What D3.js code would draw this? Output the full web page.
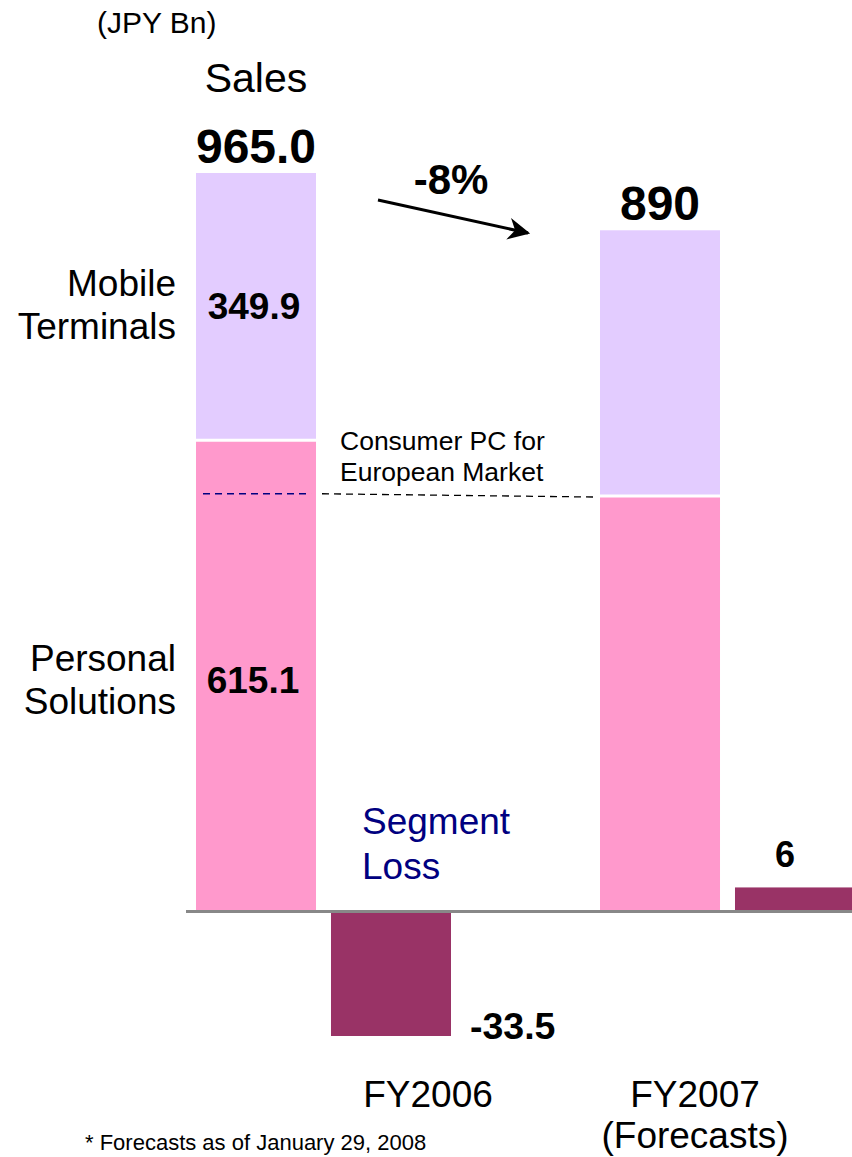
<!DOCTYPE html>
<html>
<head>
<meta charset="utf-8">
<script src="https://cdn.jsdelivr.net/npm/d3@7"></script>
<style>
  body { margin: 0; background: #fff; }
  text { font-family: Arial, "Liberation Sans", sans-serif; }
</style>
</head>
<body>
<div id="chart"></div>
<script>
// Sales by segment and segment profit/loss (JPY Bn)
const years = ["FY2006", "FY2007"];
const yearLabels = [["FY2006"], ["FY2007", "(Forecasts)"]];
const personalSolutions = [615.1, 542];
const mobileTerminals = [349.9, 348];
const totalLabels = ["965.0", "890"];
const segmentProfit = [-33.5, 6];
const profitLabels = ["-33.5", "6"];

const W = 852, H = 1157;
const baseY = 910;

const svg = d3.select("#chart").append("svg")
  .attr("width", W).attr("height", H);

// scales
const x = d3.scaleBand().domain(years).range([196, 196 + 2 * 404]);
const xSub = d3.scaleBand().domain(["sales", "profit"]).range([0, 255]).paddingInner(0.111);
const ySales = d3.scaleLinear().domain([0, 965]).range([baseY, 173]);
const yProfit = d3.scaleLinear().domain([0, -33.5]).range([baseY, 1036]);

const stackData = years.map((yr, i) => ({ year: yr, personal: personalSolutions[i], mobile: mobileTerminals[i] }));
const stacked = d3.stack().keys(["personal", "mobile"])(stackData);
const color = d3.scaleOrdinal().domain(["personal", "mobile"]).range(["#ff99cc", "#e3ccff"]);

svg.append("g")
  .selectAll("g")
  .data(stacked)
  .join("g")
  .attr("fill", d => color(d.key))
  .selectAll("rect")
  .data(d => d)
  .join("rect")
  .attr("x", d => x(d.data.year) + xSub("sales"))
  .attr("width", xSub.bandwidth())
  .attr("y", d => ySales(d[1]))
  .attr("height", d => ySales(d[0]) - ySales(d[1]));

// white gap between segments
svg.selectAll("line.gap")
  .data(stackData)
  .join("line")
  .attr("class", "gap")
  .attr("x1", d => x(d.year) + xSub("sales"))
  .attr("x2", d => x(d.year) + xSub("sales") + xSub.bandwidth())
  .attr("y1", d => ySales(d.personal))
  .attr("y2", d => ySales(d.personal))
  .attr("stroke", "#fff")
  .attr("stroke-width", 3);

// segment profit / loss bars
svg.selectAll("rect.profit")
  .data(segmentProfit)
  .join("rect")
  .attr("class", "profit")
  .attr("fill", "#993366")
  .attr("x", (d, i) => x(years[i]) + xSub("profit"))
  .attr("width", xSub.bandwidth())
  .attr("y", d => Math.min(yProfit(d), baseY))
  .attr("height", d => Math.abs(yProfit(d) - baseY));

// baseline
svg.append("line")
  .attr("x1", 186).attr("x2", W)
  .attr("y1", baseY + 1.5).attr("y2", baseY + 1.5)
  .attr("stroke", "#888").attr("stroke-width", 3);

// Consumer PC for European Market dashed lines
const euroY = ySales(545);
svg.append("line")
  .attr("x1", x("FY2006") + 7).attr("x2", x("FY2006") + xSub.bandwidth() - 5)
  .attr("y1", euroY).attr("y2", euroY)
  .attr("stroke", "#000080").attr("stroke-width", 1.5)
  .attr("stroke-dasharray", "7,5");
svg.append("line")
  .attr("x1", x("FY2006") + xSub.bandwidth() + 6)
  .attr("x2", x("FY2007") - 3)
  .attr("y1", euroY).attr("y2", ySales(personalSolutions[1]) + 1)
  .attr("stroke", "#000").attr("stroke-width", 1.3)
  .attr("stroke-dasharray", "7,5");

function multiline(lines, xPos, yPos, size, gap, anchor, fill, weight) {
  svg.append("text")
    .attr("x", xPos).attr("y", yPos)
    .attr("font-size", size)
    .attr("text-anchor", anchor)
    .attr("fill", fill)
    .attr("font-weight", weight || "normal")
    .selectAll("tspan")
    .data(lines)
    .join("tspan")
    .attr("x", xPos)
    .attr("dy", (d, i) => i ? gap : 0)
    .text(d => d);
}

multiline(["Consumer PC for", "European Market"], 340, 450, 26.5, 31, "start", "#000");

// total labels
svg.selectAll("text.total")
  .data(totalLabels)
  .join("text")
  .attr("class", "total")
  .attr("x", (d, i) => x(years[i]) + xSub("sales") + xSub.bandwidth() / 2)
  .attr("y", (d, i) => ySales(personalSolutions[i] + mobileTerminals[i]) - 10)
  .attr("text-anchor", "middle")
  .attr("font-weight", "bold")
  .attr("font-size", 48)
  .text(d => d);

// segment value labels (FY2006)
svg.append("text")
  .attr("x", 254).attr("y", 319)
  .attr("text-anchor", "middle").attr("font-weight", "bold").attr("font-size", 37)
  .text(mobileTerminals[0].toFixed(1));
svg.append("text")
  .attr("x", 253).attr("y", 693)
  .attr("text-anchor", "middle").attr("font-weight", "bold").attr("font-size", 37)
  .text(personalSolutions[0].toFixed(1));

// segment names
multiline(["Mobile", "Terminals"], 176, 296, 37, 43, "end", "#000");
multiline(["Personal", "Solutions"], 176, 671, 37, 43, "end", "#000");
multiline(["Segment", "Loss"], 362, 834, 37, 45, "start", "#000080");

// profit labels
svg.append("text")
  .attr("x", x("FY2006") + xSub("profit") + xSub.bandwidth() + 19)
  .attr("y", 1039)
  .attr("font-weight", "bold").attr("font-size", 37.5)
  .text(profitLabels[0]);
svg.append("text")
  .attr("x", x("FY2007") + xSub("profit") + xSub.bandwidth() / 2 - 10)
  .attr("y", 867)
  .attr("text-anchor", "middle")
  .attr("font-weight", "bold").attr("font-size", 36)
  .text(profitLabels[1]);

// titles
svg.append("text").attr("x", 97).attr("y", 33).attr("font-size", 30).text("(JPY Bn)");
svg.append("text").attr("x", 256).attr("y", 92).attr("text-anchor", "middle").attr("font-size", 41).text("Sales");

// -8% arrow
svg.append("defs").append("marker")
  .attr("id", "arrow")
  .attr("viewBox", "0 0 10 10")
  .attr("refX", 9).attr("refY", 5)
  .attr("markerWidth", 30).attr("markerHeight", 22)
  .attr("markerUnits", "userSpaceOnUse")
  .attr("orient", "auto")
  .append("path").attr("d", "M0,0 L10,5 L0,10 L3,5 Z").attr("fill", "#000");
svg.append("line")
  .attr("x1", 378).attr("y1", 200).attr("x2", 528).attr("y2", 233)
  .attr("stroke", "#000").attr("stroke-width", 3)
  .attr("marker-end", "url(#arrow)");
svg.append("text").attr("x", 451).attr("y", 194).attr("text-anchor", "middle")
  .attr("font-weight", "bold").attr("font-size", 42).text("-8%");

// year labels
years.forEach((yr, i) => {
  const cx = i ? 695 : 428;
  multiline(yearLabels[i], cx, 1107, 37, 41, "middle", "#000");
});

// footnote
svg.append("text").attr("x", 85).attr("y", 1150).attr("font-size", 22)
  .text("* Forecasts as of January  29, 2008");
</script>
</body>
</html>
